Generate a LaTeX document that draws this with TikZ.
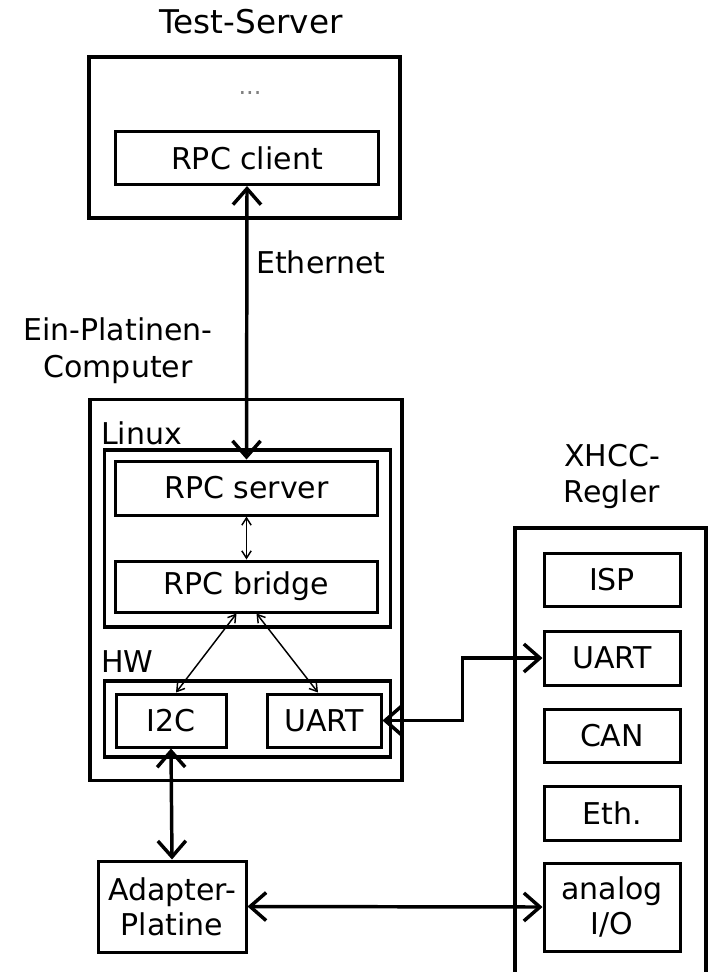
\documentclass[tikz,border=0pt]{standalone}
\usepackage{fontspec}
\setmainfont{DejaVu Sans}
\usetikzlibrary{arrows.meta}
\tikzset{
  box/.style={draw, line width=2.25pt, inner sep=0pt, align=center,
    font=\fontsize{22.5}{26.5}\selectfont},
  outerbox/.style={draw, line width=3pt, inner sep=0pt},
  lbl/.style={inner sep=0pt, align=center, font=\fontsize{22.5}{28}\selectfont},
  bigarrow/.style={line width=2.6pt,
    {Straight Barb[length=12pt,width=21pt]}-{Straight Barb[length=12pt,width=21pt]}},
  thinarrow/.style={line width=1.1pt,
    {Straight Barb[length=5.5pt,width=7pt]}-{Straight Barb[length=5.5pt,width=7pt]}}
}
\begin{document}
\begin{tikzpicture}[x=0.75pt,y=-0.75pt]
\useasboundingbox (0,0) rectangle (710,972);
\fill[white] (0,0) rectangle (710,972);

% Test-Server
\node[lbl, font=\fontsize{24.5}{28}\selectfont] (tstitle) at (251,22) {Test-Server};
\node[outerbox, minimum width=233.25pt, minimum height=120.75pt] (ts) at (244.5,137.5) {};
\node[lbl, text=gray, font=\fontsize{18}{20}\selectfont] (dots) at (250,93) {...};
\node[box, minimum width=197.25pt, minimum height=39.75pt] (rpcclient) at (247,158) {RPC client};

% Ein-Platinen-Computer
\node[lbl] (epctitle) at (118,351) {Ein-Platinen-\\Computer};
\node[outerbox, line width=2.5pt, minimum width=234pt, minimum height=285.75pt] (epc) at (246,590) {};
\node[lbl, anchor=base west] (linuxlbl) at (101,444) {Linux};
\node[outerbox, line width=2.4pt, minimum width=214.5pt, minimum height=132.75pt] (linux) at (247.5,538.5) {};
\node[box, minimum width=196.5pt, minimum height=40.5pt] (rpcserver) at (246.5,488) {RPC server};
\node[box, minimum width=196.5pt, minimum height=38.25pt] (bridge) at (246.5,586.5) {RPC bridge};
\node[lbl, anchor=base west] (hwlbl) at (101,672) {HW};
\node[outerbox, line width=2.4pt, minimum width=214.5pt, minimum height=57pt] (hw) at (247.5,719) {};
\node[box, minimum width=82.5pt, minimum height=39.75pt] (i2c) at (171,720.5) {I2C};
\node[box, minimum width=85.5pt, minimum height=39.75pt] (uartl) at (324,720.5) {UART};

% Adapter
\node[box, minimum width=111pt, minimum height=68.25pt] (adapter) at (172,906.5) {Adapter-\\Platine};

% XHCC-Regler
\node[lbl, font=\fontsize{22.5}{27}\selectfont] (xtitle) at (612,476) {XHCC-\\Regler};
\node[outerbox, minimum width=143.25pt, minimum height=348pt] (xhcc) at (610.5,760) {};
\node[box, minimum width=102pt, minimum height=39.75pt] (isp) at (612,579.5) {ISP};
\node[box, minimum width=102pt, minimum height=40.5pt] (uartx) at (612,658) {UART};
\node[box, minimum width=102pt, minimum height=39.75pt] (can) at (612,735.5) {CAN};
\node[box, minimum width=102pt, minimum height=40.5pt] (eth) at (612,813) {Eth.};
\node[box, minimum width=102pt, minimum height=66pt] (analog) at (612,907) {analog\\I/O};

% connectors
\draw[bigarrow] (rpcclient.south) -- (rpcserver.north);
\node[lbl, anchor=west] (ethlbl) at (256,262) {Ethernet};
\draw[thinarrow] (rpcserver.south) -- (bridge.north);
\draw[thinarrow] ([xshift=-7.5pt]bridge.south) -- ([xshift=3.75pt]i2c.north);
\draw[thinarrow] ([xshift=7.5pt]bridge.south) -- ([xshift=-4.5pt]uartl.north);
\draw[bigarrow] (i2c.south) -- (adapter.north);
\draw[bigarrow] (uartl.east) -- ++(80,0) |- (uartx.west);
\draw[bigarrow] (adapter.east) -- (analog.west);
\end{tikzpicture}
\end{document}
